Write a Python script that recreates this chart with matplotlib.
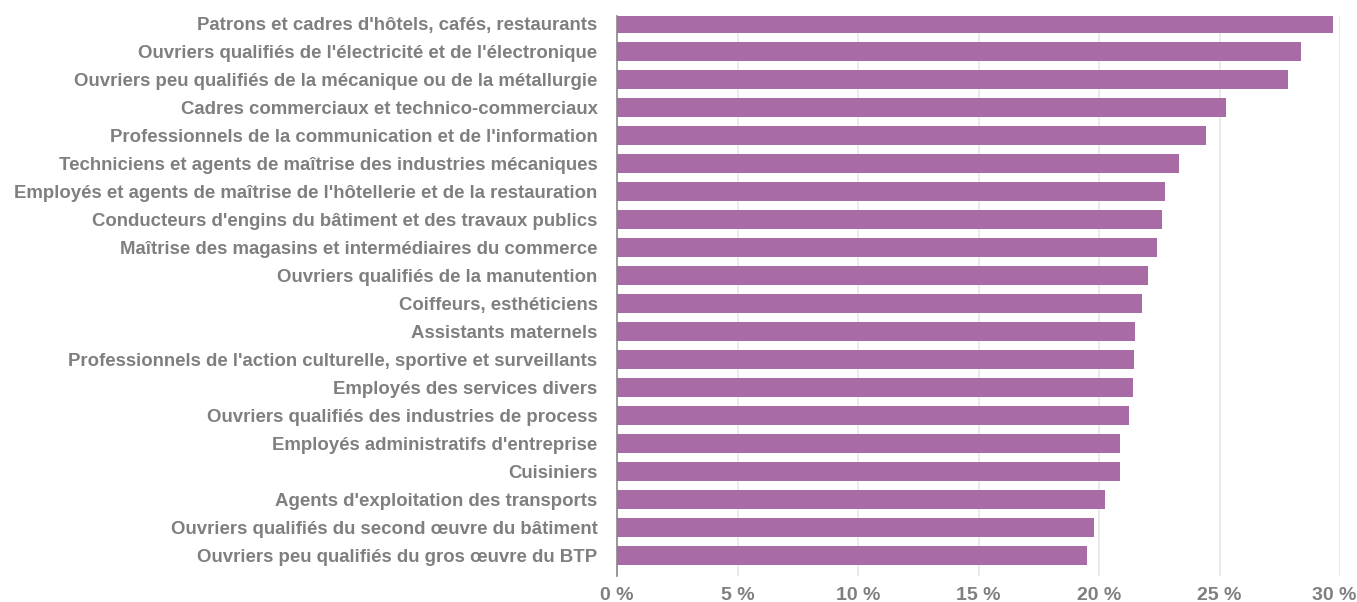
import matplotlib.pyplot as plt
import matplotlib.transforms as mtransforms
import numpy as np

plt.rcParams['font.family'] = ['Liberation Sans', 'DejaVu Sans']

categories = [
    "Patrons et cadres d'hôtels, cafés, restaurants",
    "Ouvriers qualifiés de l'électricité et de l'électronique",
    "Ouvriers peu qualifiés de la mécanique ou de la métallurgie",
    "Cadres commerciaux et technico-commerciaux",
    "Professionnels de la communication et de l'information",
    "Techniciens et agents de maîtrise des industries mécaniques",
    "Employés et agents de maîtrise de l'hôtellerie et de la restauration",
    "Conducteurs d'engins du bâtiment et des travaux publics",
    "Maîtrise des magasins et intermédiaires du commerce",
    "Ouvriers qualifiés de la manutention",
    "Coiffeurs, esthéticiens",
    "Assistants maternels",
    "Professionnels de l'action culturelle, sportive et surveillants",
    "Employés des services divers",
    "Ouvriers qualifiés des industries de process",
    "Employés administratifs d'entreprise",
    "Cuisiniers",
    "Agents d'exploitation des transports",
    "Ouvriers qualifiés du second œuvre du bâtiment",
    "Ouvriers peu qualifiés du gros œuvre du BTP",
]
values = [29.7, 28.4, 27.85, 25.25, 24.45, 23.3, 22.75, 22.6, 22.4, 22.05,
          21.8, 21.5, 21.45, 21.4, 21.25, 20.85, 20.85, 20.25, 19.8, 19.5]
xticks = [0, 5, 10, 15, 20, 25, 30]

grey = '#7f7f7f'
fig = plt.figure(figsize=(13.57, 6.02), dpi=100)
ax = fig.add_axes([0.4547, 0.0432, 0.9875 - 0.4547, 0.9734 - 0.0432])

y = np.arange(len(categories))
ax.barh(y, values, height=0.68, color='#a96ba5', zorder=3)
ax.set_ylim(len(categories) - 0.27, -0.27)
ax.set_xlim(0, 30)

ax.set_yticks(y)
ax.set_yticklabels(categories, fontsize=13.4, fontweight='bold', color=grey)
ax.set_xticks(xticks)
ax.set_xticklabels([f"{t} %" for t in xticks], fontsize=14, fontweight='bold', color=grey)
ax.tick_params(axis='both', length=0)
ax.tick_params(axis='y', pad=14)
ax.tick_params(axis='x', pad=8)

# last tick label pulled in a little so it stays inside the figure
last = ax.get_xticklabels()[-1]
last.set_transform(last.get_transform() +
                   mtransforms.ScaledTranslation(-6 / 100, 0, fig.dpi_scale_trans))

ax.grid(axis='x', color='#e6e6e6', linewidth=1.2, zorder=0)
for s in ['top', 'right', 'bottom']:
    ax.spines[s].set_visible(False)
ax.spines['left'].set_color('#888888')
ax.spines['left'].set_linewidth(1.2)

fig.savefig('out.png', dpi=100)
